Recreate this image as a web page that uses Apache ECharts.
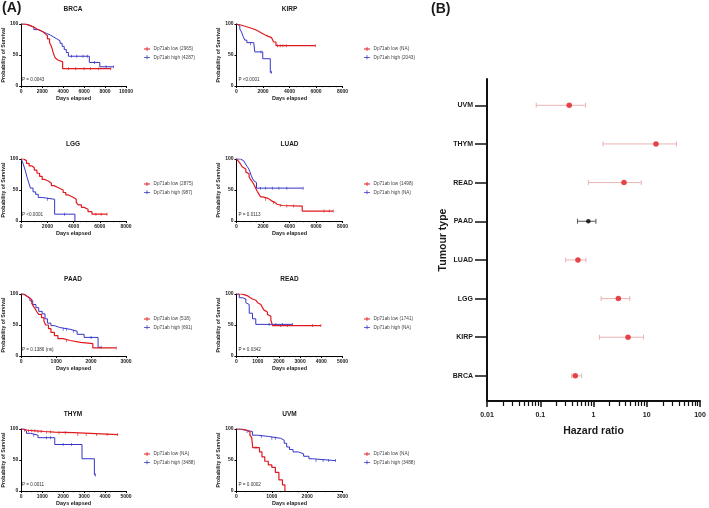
<!DOCTYPE html>
<html><head><meta charset="utf-8">
<script src="https://cdn.jsdelivr.net/npm/echarts@6/dist/echarts.min.js"></script>
<style>html,body{margin:0;padding:0;background:#fff}#c{width:709px;height:508px}</style>
</head><body><div id="c"></div>
<script>
// ---------- Kaplan-Meier step points: [days, survival %] (value after step) ----------
const brcaLow = [[0,100],[300,99],[600,97],[900,95],[1200,92],[1500,90],[1800,87],[2100,84],[2300,81],[2500,76],[2700,70],[2850,65],[2950,60],[3050,54],[3150,49],[3250,45],[3350,42],[3500,39],[3950,28],[8550,28]];
const brcaHigh = [[0,100],[400,98],[800,95],[1200,91],[1600,88],[2000,85],[2400,82],[2800,79],[3100,76],[3400,73],[3700,69],[3900,64],[4100,59],[4300,54],[4500,48],[6500,38],[7500,31],[8800,31]];
const kirpLow = [[0,100],[150,98],[400,96],[700,94],[1000,92],[1300,89],[1600,86],[1850,83],[2100,80],[2400,78],[2650,75],[2800,71],[2980,65],[5950,65]];
const kirpHigh = [[0,100],[150,97],[250,92],[380,87],[500,80],[620,74],[780,70],[1300,68],[1380,55],[1980,44],[2550,22],[2650,22]];
const lggLow = [[0,100],[200,97],[400,93],[600,89],[800,86],[1000,82],[1200,77],[1400,72],[1600,67],[1800,64],[2100,61],[2300,57],[2500,54],[2800,52],[3000,50],[3200,46],[3400,42],[3600,40],[3800,38],[4000,35],[4200,30],[4350,26],[4600,22],[4800,19],[5100,15],[5400,11],[6550,11]];
const lggHigh = [[0,100],[150,92],[300,82],[450,70],[600,60],[700,53],[900,47],[1100,43],[1300,38],[1600,35],[2550,11],[4100,0]];
const luadLow = [[0,100],[150,96],[300,92],[450,87],[550,84],[700,79],[800,76],[950,71],[1060,67],[1200,63],[1310,59],[1450,53],[1560,48],[1700,43],[1810,39],[2000,37],[2310,35],[2500,32],[2690,30],[2900,27],[3070,25],[3450,24],[4960,16],[7300,16]];
const luadHigh = [[0,100],[300,99],[430,97],[550,95],[680,92],[800,88],[930,84],[1000,80],[1100,74],[1200,69],[1300,65],[1430,62],[1510,53],[5030,53]];
const paadLow = [[0,100],[60,97],[150,94],[220,91],[300,85],[350,80],[400,76],[450,71],[500,67],[580,62],[650,56],[700,50],[780,44],[850,38],[950,33],[1050,28],[1200,25],[1400,22],[1700,20],[2050,13],[2720,13]];
const paadHigh = [[0,100],[80,97],[150,94],[250,89],[330,83],[420,78],[500,72],[600,68],[680,60],[750,53],[850,49],[950,46],[1100,43],[1400,40],[1600,35],[1800,30],[2200,14],[2290,14]];
const readLow = [[0,100],[200,99],[360,97],[520,94],[650,92],[755,90],[910,89],[1000,86],[1070,83],[1150,80],[1225,78],[1300,74],[1380,71],[1460,67],[1540,64],[1620,58],[1700,49],[3980,49]];
const readHigh = [[0,100],[130,94],[280,92],[440,86],[520,83],[600,69],[755,60],[910,51],[2640,51]];
const thymLow = [[0,100],[100,98],[300,97],[700,96],[1100,95],[1600,94],[2500,91],[4600,91]];
const thymHigh = [[0,100],[100,97],[250,93],[450,90],[800,86],[1600,75],[2900,52],[3490,26],[3550,26]];
const uvmLow = [[0,100],[150,98],[300,95],[380,90],[430,86],[460,70],[650,63],[720,55],[800,48],[900,42],[1000,38],[1100,30],[1200,18],[1300,10],[1370,0]];
const uvmHigh = [[0,100],[100,98],[250,96],[450,90],[600,88],[900,85],[1250,82],[1350,77],[1420,71],[1500,67],[1600,63],[1750,60],[1900,56],[2050,52],[2150,49],[2800,49]];

// censored observations [days, survival %]
const brcaLowCens = [[4500,28],[5200,28],[6000,28],[6600,28],[7400,28],[8550,28]];
const brcaHighCens = [[4800,48],[5300,48],[5900,48],[6300,48],[7000,38],[8100,31],[8800,31]];
const kirpLowCens = [[3100,65],[3300,65],[3500,65],[3750,65],[5950,65]];
const kirpHighCens = [[1050,68],[1850,55],[2650,22]];
const lggLowCens = [[5700,11],[6100,11],[6550,11]];
const lggHighCens = [[2000,35],[3300,11]];
const luadLowCens = [[2200,35],[2800,30],[3300,25],[3800,24],[4300,24],[6600,16],[7000,16],[7300,16]];
const luadHighCens = [[1800,53],[2200,53],[2700,53],[3200,53],[3800,53],[5030,53]];
const paadLowCens = [[1300,25],[2720,13]];
const paadHighCens = [[1200,43],[1300,43],[1500,40],[2000,30],[2290,14]];
const readLowCens = [[2090,49],[2400,49],[3580,49],[3980,49]];
const readHighCens = [[1540,51],[1855,51],[2170,51],[2640,51]];
const thymLowCens = [[150,98],[350,97],[500,97],[650,97],[800,96],[950,96],[1200,95],[1400,95],[1800,94],[2100,94],[2700,91],[3100,91],[3600,91],[4100,91],[4600,91]];
const thymHighCens = [[600,90],[1200,86],[1400,86],[2000,75],[2400,75],[3550,26]];
const uvmLowCens = [[550,70]];
const uvmHighCens = [[300,96],[700,88],[1000,85],[1100,85],[2250,49],[2450,49],[2600,49],[2800,49]];

const panelNames = ['BRCA','KIRP','LGG','LUAD','PAAD','READ','THYM','UVM'];
const pValues = ['P = 0.0043','P <0.0001','P <0.0001','P = 0.0113','P = 0.1386 (ns)','P = 0.0342','P = 0.0011','P = 0.0002'];
const lowLabels = ['Dp71ab low (2965)','Dp71ab low (NA)','Dp71ab low (2875)','Dp71ab low (1498)','Dp71ab low (518)','Dp71ab low (1741)','Dp71ab low (NA)','Dp71ab low (NA)'];
const highLabels = ['Dp71ab high (4287)','Dp71ab high (2043)','Dp71ab high (987)','Dp71ab high (NA)','Dp71ab high (691)','Dp71ab high (NA)','Dp71ab high (3488)','Dp71ab high (3488)'];
const xMax = [10000,8000,8000,8000,3000,5000,5000,3000];
const xStep = [2000,2000,2000,2000,1000,1000,1000,1000];

// ---------- Forest plot (B) ----------
const tumours = ['BRCA','KIRP','LGG','LUAD','PAAD','READ','THYM','UVM'];
const hazard = [0.455,4.45,2.93,0.51,0.80,3.74,14.9,0.35];
const ciLow = [0.39,1.29,1.39,0.30,0.50,0.80,1.51,0.084];
const ciHigh = [0.60,8.7,4.8,0.72,1.11,7.9,36,0.71];
const significant = [true,true,true,true,false,true,true,true];
const hrMinorTicks = [0.02,0.03,0.04,0.05,0.06,0.07,0.08,0.09,0.2,0.3,0.4,0.5,0.6,0.7,0.8,0.9,2,3,4,5,6,7,8,9,20,30,40,50,60,70,80,90];

const lowData = [brcaLow,kirpLow,lggLow,luadLow,paadLow,readLow,thymLow,uvmLow];
const highData = [brcaHigh,kirpHigh,lggHigh,luadHigh,paadHigh,readHigh,thymHigh,uvmHigh];
const lowCens = [brcaLowCens,kirpLowCens,lggLowCens,luadLowCens,paadLowCens,readLowCens,thymLowCens,uvmLowCens];
const highCens = [brcaHighCens,kirpHighCens,lggHighCens,luadHighCens,paadHighCens,readHighCens,thymHighCens,uvmHighCens];

const FONT = '"Liberation Sans", Arial, sans-serif';
const RED = '#e01a1f', BLUE = '#3535c8', PINK = '#e9b3b3', TXT = '#1a1a1a';
const colLeft = [20, 236.5], rowTop = [24, 159, 294, 429], plotW = 106, plotH = 62;
const legendLeft = [139, 359];
const ICON = 'path://M0,1.6H6V2.4H0Z M2.6,0H3.4V4H2.6Z';

const grids = [], xAxes = [], yAxes = [], series = [], titles = [], legends = [], graphics = [];

panelNames.forEach((nm, i) => {
  const L = colLeft[i % 2], T = rowTop[Math.floor(i / 2)];
  grids.push({left: L, top: T, width: plotW, height: plotH});
  xAxes.push({
    gridIndex: i, type: 'value', min: 0, max: xMax[i], interval: xStep[i],
    name: 'Days elapsed', nameLocation: 'middle', nameGap: 9,
    nameTextStyle: {fontFamily: FONT, fontWeight: 'bold', fontSize: 5.5, color: TXT},
    axisLine: {onZero: false, lineStyle: {color: '#000', width: 1}},
    axisTick: {length: 2, lineStyle: {color: '#000', width: 1}},
    minorTick: {show: true, splitNumber: 4, length: 1.2, lineStyle: {color: '#000', width: 0.8}},
    axisLabel: {fontFamily: FONT, fontWeight: 'bold', fontSize: 5, color: TXT, margin: 3,
      formatter: v => String(v)},
    splitLine: {show: false}
  });
  yAxes.push({
    gridIndex: i, type: 'value', min: 0, max: 100, interval: 50,
    name: 'Probability of Survival', nameLocation: 'middle', nameGap: 11,
    nameTextStyle: {fontFamily: FONT, fontWeight: 'bold', fontSize: 5.2, color: TXT},
    axisLine: {show: true, lineStyle: {color: '#000', width: 1}},
    axisTick: {show: true, length: 2, lineStyle: {color: '#000', width: 1}},
    axisLabel: {fontFamily: FONT, fontWeight: 'bold', fontSize: 5, color: TXT, margin: 3},
    splitLine: {show: false}
  });
  titles.push({
    text: nm, left: L + plotW / 2, top: T - 18, textAlign: 'center', padding: 0,
    textStyle: {fontFamily: FONT, fontWeight: 'bold', fontSize: 6.5, color: TXT}
  });
  legends.push({
    left: legendLeft[i % 2], top: T + 17.5, orient: 'vertical',
    itemWidth: 6, itemHeight: 4, itemGap: 3.3, selectedMode: false,
    textStyle: {fontFamily: FONT, fontSize: 4.7, color: '#444', padding: [0, 0, 0, -1.5]},
    data: [{name: lowLabels[i], icon: ICON}, {name: highLabels[i], icon: ICON}]
  });
  series.push({
    type: 'line', name: highLabels[i], xAxisIndex: i, yAxisIndex: i, data: highData[i],
    step: 'end', symbol: 'none', lineStyle: {color: BLUE, width: 1}, itemStyle: {color: BLUE},
    animation: false, silent: true
  });
  series.push({
    type: 'line', name: lowLabels[i], xAxisIndex: i, yAxisIndex: i, data: lowData[i],
    step: 'end', symbol: 'none', lineStyle: {color: RED, width: 1.2}, itemStyle: {color: RED},
    animation: false, silent: true
  });
  series.push({
    type: 'scatter', name: 'cens-h' + i, xAxisIndex: i, yAxisIndex: i, data: highCens[i],
    symbol: 'rect', symbolSize: [0.8, 3], itemStyle: {color: BLUE}, animation: false, silent: true
  });
  series.push({
    type: 'scatter', name: 'cens-l' + i, xAxisIndex: i, yAxisIndex: i, data: lowCens[i],
    symbol: 'rect', symbolSize: [0.8, 3], itemStyle: {color: RED}, animation: false, silent: true
  });
  graphics.push({
    type: 'text', left: L + 2, top: T + plotH - 8.5,
    style: {text: pValues[i], font: '4.6px ' + FONT, fill: '#333'}
  });
});

// Forest plot grid (index 8)
grids.push({left: 487, top: 79, width: 213, height: 322});
xAxes.push({
  gridIndex: 8, type: 'log', logBase: 10, min: 0.01, max: 100, position: 'bottom',
  name: 'Hazard ratio', nameLocation: 'middle', nameGap: 25,
  nameTextStyle: {fontFamily: FONT, fontWeight: 'bold', fontSize: 10.5, color: TXT},
  axisLine: {onZero: false, lineStyle: {color: '#111', width: 2}},
  axisTick: {length: 6, lineStyle: {color: '#111', width: 1.5}},
  axisLabel: {fontFamily: FONT, fontWeight: 'bold', fontSize: 7, color: TXT, margin: 11,
    formatter: v => String(+v.toPrecision(3))},
  splitLine: {show: false}, minorTick: {show: false}
});
xAxes.push({
  gridIndex: 8, type: 'value', min: -2, max: 2, position: 'bottom',
  axisLine: {show: false},
  axisTick: {show: true, length: 5, customValues: hrMinorTicks.map(Math.log10), lineStyle: {color: '#111', width: 1.2}},
  axisLabel: {show: false}, splitLine: {show: false}
});
yAxes.push({
  gridIndex: 8, type: 'value', min: 0.35, max: 8.68,
  name: 'Tumour type', nameLocation: 'middle', nameGap: 38,
  nameTextStyle: {fontFamily: FONT, fontWeight: 'bold', fontSize: 10.5, color: TXT},
  axisLine: {show: true, onZero: false, lineStyle: {color: '#111', width: 2}},
  axisTick: {show: true, length: 12, customValues: [1,2,3,4,5,6,7,8], lineStyle: {color: '#111', width: 1.5}},
  axisLabel: {fontFamily: FONT, fontWeight: 'bold', fontSize: 7, color: TXT, margin: 14,
    customValues: [1,2,3,4,5,6,7,8], formatter: v => tumours[Math.round(v) - 1] || ''},
  splitLine: {show: false}
});

series.push({
  type: 'custom', name: 'ci', xAxisIndex: 8, yAxisIndex: 8, animation: false, silent: true,
  data: tumours.map((t, i) => [ciLow[i], ciHigh[i], i + 1, significant[i] ? 1 : 0]),
  encode: {x: [0, 1], y: 2},
  renderItem: (params, api) => {
    const y = api.value(2);
    const a = api.coord([api.value(0), y]);
    const b = api.coord([api.value(1), y]);
    const col = api.value(3) ? PINK : '#555';
    const h = 2.5;
    return {type: 'group', children: [
      {type: 'line', shape: {x1: a[0], y1: a[1], x2: b[0], y2: b[1]}, style: {stroke: col, lineWidth: 1}},
      {type: 'line', shape: {x1: a[0], y1: a[1] - h, x2: a[0], y2: a[1] + h}, style: {stroke: col, lineWidth: 1}},
      {type: 'line', shape: {x1: b[0], y1: b[1] - h, x2: b[0], y2: b[1] + h}, style: {stroke: col, lineWidth: 1}}
    ]};
  }
});
series.push({
  type: 'scatter', name: 'hr', xAxisIndex: 8, yAxisIndex: 8, animation: false, silent: true, z: 5,
  data: tumours.map((t, i) => ({
    value: [hazard[i], i + 1],
    symbolSize: significant[i] ? 5.5 : 4.5,
    itemStyle: {color: significant[i] ? RED : '#000'}
  }))
});

graphics.push({type: 'text', left: 2, top: 1, style: {text: '(A)', font: 'bold 14px ' + FONT, fill: TXT}});
graphics.push({type: 'text', left: 431, top: 2, style: {text: '(B)', font: 'bold 14px ' + FONT, fill: TXT}});

const chart = echarts.init(document.getElementById('c'), null, {renderer: 'canvas'});
chart.setOption({
  backgroundColor: '#fff',
  animation: false,
  title: titles,
  legend: legends,
  grid: grids,
  xAxis: xAxes,
  yAxis: yAxes,
  series: series,
  graphic: graphics
});
</script>
</body></html>
